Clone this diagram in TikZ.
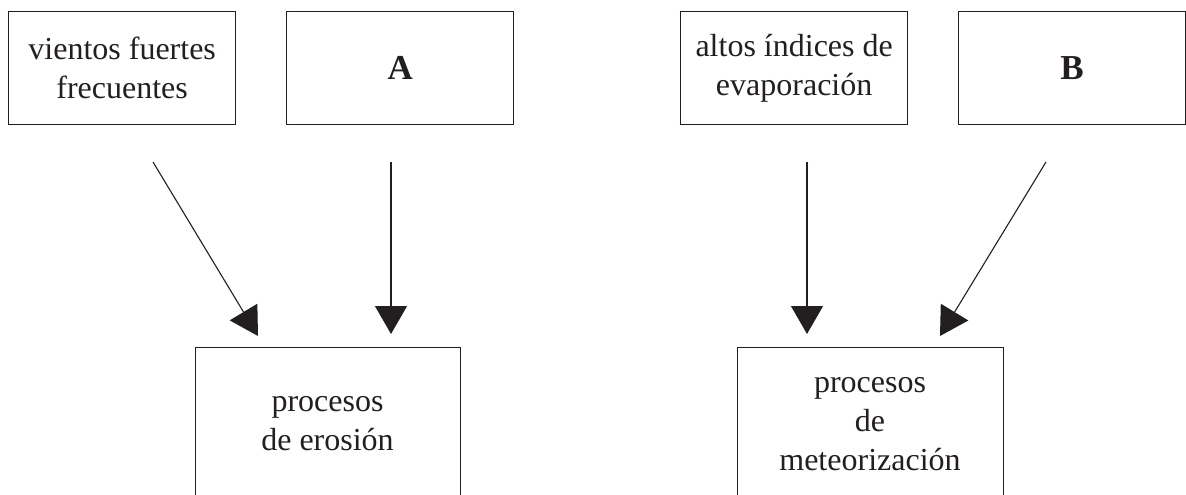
\documentclass[tikz,border=0pt]{standalone}
\usepackage{fontspec}
\setmainfont{Liberation Serif}
\usetikzlibrary{arrows.meta}
\definecolor{ink}{HTML}{231F20}
\begin{document}
\begin{tikzpicture}[x=1pt,y=-1pt,
  topbox/.style={draw=ink, line width=1.3pt, minimum width=227pt, minimum height=113pt, inner sep=0pt, anchor=north west},
  botbox/.style={draw=ink, line width=1.3pt, minimum height=220pt, inner sep=0pt, anchor=north west},
  lbl/.style={text=ink, align=center, font=\fontsize{32}{39}\selectfont, inner sep=0pt},
  letter/.style={text=ink, font=\fontsize{35}{40}\selectfont\bfseries, inner sep=0pt},
  conn/.style={draw=ink, line width=1.1pt, -{Triangle[length=28pt,width=32pt]}}]
\useasboundingbox (0,0) rectangle (1186,495);
\begin{scope}
\clip (0,0) rectangle (1186,495);
\node[topbox] (viento) at (8,11) {};
\node[lbl] (vientot) at (viento.center) {vientos fuertes\\frecuentes};
\node[topbox] (boxA) at (286,11) {};
\node[letter] (boxAt) at (boxA.center) {A};
\node[topbox] (altos) at (680,11) {};
\node[lbl] (altost) at (altos.center) {altos índices de\\evaporación};
\node[topbox] (boxB) at (958,11) {};
\node[letter] (boxBt) at (boxB.center) {B};
\node[botbox, minimum width=265pt] (erosion) at (195,347) {};
\node[lbl, anchor=base] (erosiont) at (327.5,450) {procesos\\de erosión};
\node[botbox, minimum width=266pt] (meteo) at (737,347) {};
\node[lbl, anchor=base] (meteot) at (870,470) {procesos\\de\\meteorización};
\end{scope}
\coordinate (s1) at (153,162);
\coordinate (e1) at (258,336);
\coordinate (s2) at (391,162);
\coordinate (e2) at (391,334);
\coordinate (s3) at (807,162);
\coordinate (e3) at (807,334);
\coordinate (s4) at (1046,162);
\coordinate (e4) at (940,336);
\draw[conn] (s1) -- (e1);
\draw[conn] (s2) -- (e2);
\draw[conn] (s3) -- (e3);
\draw[conn] (s4) -- (e4);
\end{tikzpicture}
\end{document}
